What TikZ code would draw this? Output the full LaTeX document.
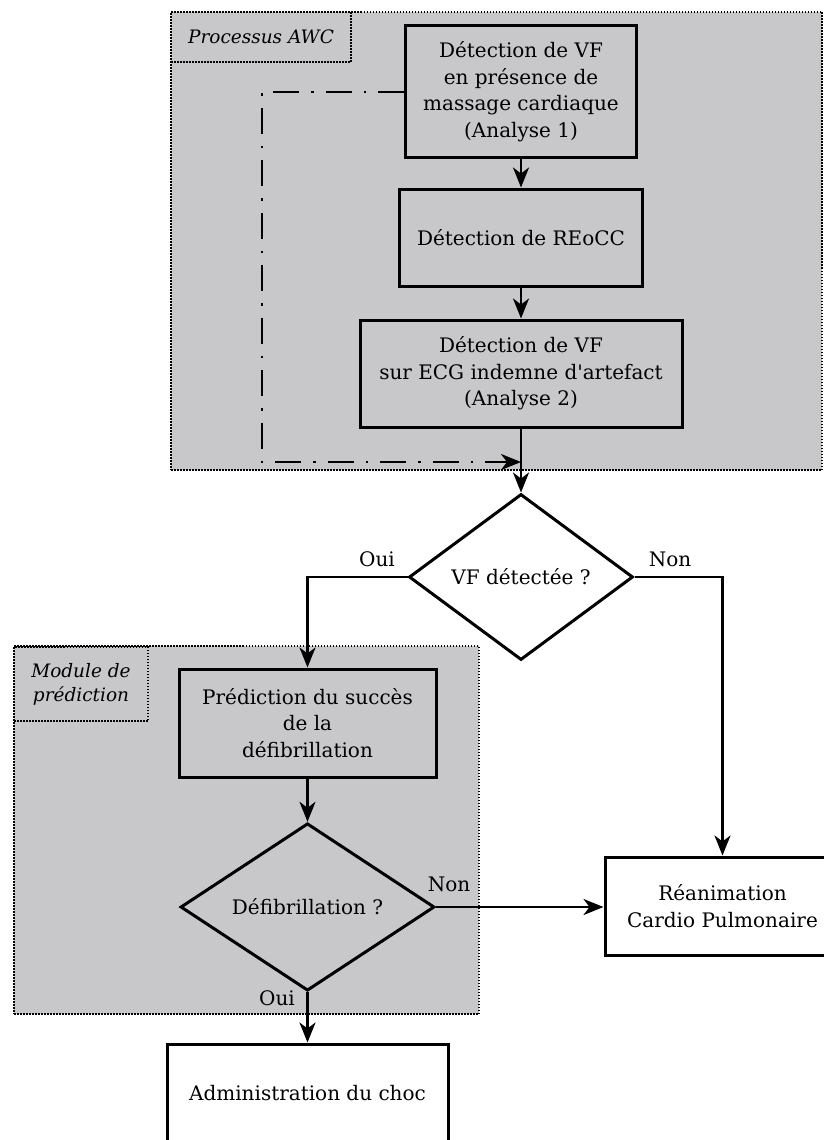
\documentclass[tikz,border=0pt]{standalone}
\usepackage{fontspec}
\setmainfont{DejaVu Serif}[Ligatures=TeXOff]
\usetikzlibrary{shapes.geometric,arrows.meta}
\definecolor{bggray}{RGB}{200,200,203}
\begin{document}
\begin{tikzpicture}[x=1pt,y=-1pt,
  font=\fontsize{20}{26.5}\selectfont,
  stepbox/.style={draw,line width=3pt,align=center,inner sep=0pt},
  decision/.style={draw,diamond,line width=3pt,align=center,inner sep=0pt},
  conn/.style={line width=2.6pt,-{Stealth[length=20pt,width=16pt,inset=6pt]}},
  dashconn/.style={line width=2.6pt,dash pattern=on 26pt off 12pt on 2.5pt off 12pt,-{Stealth[length=20pt,width=16pt,inset=6pt]}},
  region/.style={fill=bggray,draw,line width=2pt,dash pattern=on 1.5pt off 1.5pt,inner sep=0pt},
  regionlabel/.style={draw,line width=2pt,dash pattern=on 1.5pt off 1.5pt,inner sep=0pt,align=center,
    font=\fontsize{18.5}{24}\selectfont\itshape},
  lbl/.style={inner sep=0pt}
]
\useasboundingbox (0,0) rectangle (824,1140);
\clip (0,0) rectangle (824,1140);

% regions
\node[region,minimum width=651pt,minimum height=458pt] (awc) at (496.5,241) {};
\node[regionlabel,minimum width=180pt,minimum height=50pt] (awclbl) at (261,37) {Processus AWC};
\node[region,minimum width=465pt,minimum height=368pt] (mod) at (246.5,830) {};
\node[regionlabel,minimum width=134pt,minimum height=74pt] (modlbl) at (81,684) {Module de\\prédiction};

% boxes
\node[stepbox,fill=bggray,minimum width=231pt,minimum height=131pt] (b1) at (521,91.5)
  {Détection de VF\\en présence de\\massage cardiaque\\(Analyse 1)};
\node[stepbox,fill=bggray,minimum width=243pt,minimum height=97pt] (b2) at (521,237.5)
  {Détection de REoCC};
\node[stepbox,fill=bggray,minimum width=322pt,minimum height=107pt] (b3) at (521,373.5)
  {Détection de VF\\sur ECG indemne d'artefact\\(Analyse 2)};
\node[decision,fill=white,minimum width=224pt,minimum height=166pt] (d1) at (521,577)
  {VF détectée ?};
\node[stepbox,fill=bggray,minimum width=257pt,minimum height=108pt] (b4) at (307.5,723)
  {Prédiction du succès\\de la\\défibrillation};
\node[decision,fill=bggray,minimum width=254pt,minimum height=167pt] (d2) at (307.5,907)
  {Défibrillation ?};
\node[stepbox,fill=white,minimum width=235pt,minimum height=98pt] (b5) at (722.5,906)
  {Réanimation\\Cardio Pulmonaire};
\node[stepbox,fill=white,minimum width=281pt,minimum height=98pt] (b6) at (307.5,1093)
  {Administration du choc};

% connectors
\draw[conn] (b1) -- (b2);
\draw[conn] (b2) -- (b3);
\draw[conn] (b3) -- (d1);
\coordinate (dc1) at (262,92);
\coordinate (dc2) at (262,462);
\coordinate (dc3) at (521,462);
\draw[dashconn] (b1.west |- dc1) -- (dc1) -- (dc2) -- (dc3);
\draw[conn] (d1.west) -| (b4.north);
\draw[conn] (d1.east) -| (b5.north);
\draw[conn] (b4) -- (d2);
\draw[conn] (d2.east) -- (d2.east -| b5.west);
\draw[conn] (d2.south) -- (b6.north);

% labels
\node[lbl] (oui1) at (377,559) {Oui};
\node[lbl] (non1) at (670,559) {Non};
\node[lbl] (non2) at (449,884) {Non};
\node[lbl] (oui2) at (277,998) {Oui};
\end{tikzpicture}
\end{document}
